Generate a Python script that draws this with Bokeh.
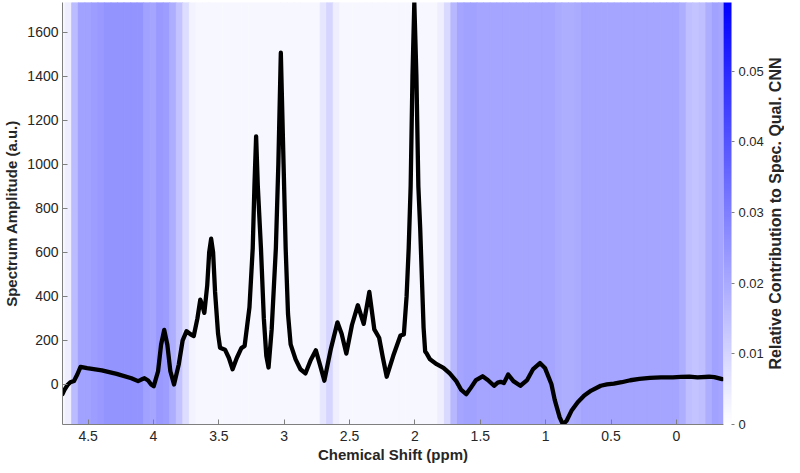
import numpy as np
from bokeh.plotting import figure
from bokeh.layouts import row
from bokeh.models import (Range1d, LinearColorMapper, ColorBar, FixedTicker, Label,
                          ColumnDataSource)
from bokeh.transform import linear_cmap
from bokeh.embed import file_html
from bokeh.resources import INLINE

# ---------------- data ----------------
ppm = [4.696, 4.681, 4.658, 4.636, 4.608, 4.583, 4.558, 4.508, 4.395, 4.282, 4.169, 4.118,
       4.093, 4.069, 4.041, 4.018, 3.998, 3.965, 3.942, 3.918, 3.894, 3.871, 3.843, 3.807,
       3.777, 3.747, 3.717, 3.692, 3.664, 3.642, 3.627, 3.611, 3.589, 3.574, 3.559, 3.544,
       3.529, 3.506, 3.491, 3.453, 3.423, 3.395, 3.363, 3.328, 3.303, 3.266, 3.241, 3.228,
       3.215, 3.202, 3.178, 3.156, 3.137, 3.120, 3.096, 3.064, 3.045, 3.026, 3.005, 2.989,
       2.971, 2.951, 2.913, 2.876, 2.838, 2.798, 2.758, 2.727, 2.693, 2.644, 2.593, 2.561,
       2.525, 2.482, 2.437, 2.392, 2.349, 2.311, 2.274, 2.245, 2.216, 2.166, 2.111, 2.085,
       2.064, 2.048, 2.033, 2.019, 2.005, 1.989, 1.974, 1.960, 1.934, 1.922, 1.910, 1.885,
       1.834, 1.782, 1.734, 1.684, 1.646, 1.608, 1.578, 1.533, 1.483, 1.443, 1.395, 1.367,
       1.345, 1.320, 1.287, 1.247, 1.194, 1.142, 1.096, 1.044, 1.006, 0.956, 0.931, 0.893,
       0.868, 0.840, 0.803, 0.755, 0.705, 0.652, 0.579, 0.532, 0.479, 0.419, 0.353, 0.283,
       0.203, 0.118, 0.027, -0.033, -0.099, -0.161, -0.250, -0.290, -0.350]
amplitude = [-44, -25, -3, 10, 16, 45, 80, 74, 64, 48, 28, 15,
             22, 28, 18, 0, -8, 60, 180, 248, 180, 60, 0, 90,
             200, 242, 228, 220, 300, 385, 360, 325, 450, 600, 662, 600,
             420, 230, 167, 158, 120, 69, 120, 165, 175, 350, 618, 900,
             1127, 900, 618, 300, 130, 77, 250, 618, 1000, 1507, 1000, 618,
             320, 182, 114, 69, 50, 110, 155, 90, 17, 160, 282, 230,
             140, 270, 360, 275, 420, 250, 212, 120, 35, 130, 222, 227,
             400, 618, 900, 1400, 1735, 1400, 900, 709, 257, 150, 140, 114,
             92, 75, 50, 15, -25, -44, -20, 20, 37, 20, -6, 8,
             12, 6, 45, 15, -6, 20, 70, 97, 75, 1, -70, -150,
             -182, -165, -120, -81, -50, -28, -6, 0, 4, 10, 19, 25,
             30, 32, 32, 34, 35, 32, 35, 33, 24]

# relative contribution, bins of 0.05 ppm centred from 4.70 down to -0.35
contrib_ppm = [round(4.70 - 0.05 * i, 2) for i in range(102)]
contribution = [
    0.002, 0.004, 0.016, 0.022, 0.022, 0.023, 0.024, 0.025, 0.025, 0.025,   # 4.70 .. 4.25
    0.025, 0.025, 0.025, 0.022, 0.021, 0.024, 0.023, 0.019, 0.014, 0.008,   # 4.20 .. 3.75
    0.003, 0.002, 0.002, 0.002, 0.002, 0.002, 0.002, 0.002, 0.002, 0.002,   # 3.70 .. 3.25
    0.002, 0.002, 0.002, 0.002, 0.002, 0.002, 0.002, 0.002, 0.002, 0.002,   # 3.20 .. 2.75
    0.006, 0.010, 0.004, 0.002, 0.002, 0.002, 0.002, 0.002, 0.002, 0.002,   # 2.70 .. 2.25
    0.002, 0.002, 0.002, 0.002, 0.002, 0.002, 0.002, 0.002, 0.004, 0.009,   # 2.20 .. 1.75
    0.017, 0.021, 0.022, 0.022, 0.021, 0.021, 0.021, 0.021, 0.021, 0.021,   # 1.70 .. 1.25
    0.021, 0.021, 0.021, 0.021, 0.021, 0.021, 0.020, 0.019, 0.019, 0.020,   # 1.20 .. 0.75
    0.021, 0.021, 0.021, 0.021, 0.021, 0.021, 0.021, 0.021, 0.021, 0.021,   # 0.70 .. 0.25
    0.021, 0.021, 0.021, 0.021, 0.021, 0.019, 0.015, 0.014, 0.015, 0.019,   # 0.20 .. -0.25
    0.022, 0.021,                                                           # -0.30 .. -0.35
]

x_ticks = [4.5, 4, 3.5, 3, 2.5, 2, 1.5, 1, 0.5, 0]
x_tick_labels = ["4.5", "4", "3.5", "3", "2.5", "2", "1.5", "1", "0.5", "0"]
y_ticks = [0, 200, 400, 600, 800, 1000, 1200, 1400, 1600]
cbar_ticks = [0, 0.01, 0.02, 0.03, 0.04, 0.05]
cbar_max = 0.0597
x_lo, x_hi = -0.36, 4.696
y_lo, y_hi = -182, 1735

# ---------------- style ----------------
FONT = "Liberation Sans"
TXT = "#262626"
AX = "#7f7f7f"

palette = ["#%02x%02xff" % (255 - i, 255 - i) for i in range(256)]
mapper = LinearColorMapper(palette=palette, low=0, high=cbar_max)

p = figure(width=766, height=465, output_backend="svg", toolbar_location=None,
           x_range=Range1d(x_hi, x_lo), y_range=Range1d(y_lo, y_hi),
           min_border_top=2, min_border_left=2, min_border_right=0, min_border_bottom=2)
p.outline_line_color = None
p.grid.visible = False
p.background_fill_color = "white"

half = 0.025
src = ColumnDataSource(dict(
    left=[c + half for c in contrib_ppm],
    right=[c - half for c in contrib_ppm],
    contrib=contribution,
))
cmap = linear_cmap("contrib", palette, 0, cbar_max)
p.quad(left="left", right="right", bottom=y_lo, top=y_hi, source=src,
       fill_color=cmap, line_color=cmap, line_width=1)

p.line(ppm, amplitude, line_color="black", line_width=4.3, line_join="round", line_cap="round")

# axes
for ax in (p.xaxis[0], p.yaxis[0]):
    ax.axis_line_color = AX
    ax.major_tick_line_color = AX
    ax.minor_tick_line_color = None
    ax.major_tick_in = 5
    ax.major_tick_out = 0
    ax.major_label_text_font = FONT
    ax.major_label_text_font_size = "14px"
    ax.major_label_text_color = TXT
    ax.axis_label_text_font = FONT
    ax.axis_label_text_font_size = "15px"
    ax.axis_label_text_font_style = "bold"
    ax.axis_label_text_color = TXT

p.xaxis.ticker = FixedTicker(ticks=x_ticks)
p.xaxis.major_label_overrides = {t: l for t, l in zip(x_ticks, x_tick_labels)}
p.xaxis.axis_label = "Chemical Shift (ppm)"
p.xaxis.major_label_standoff = 6
p.xaxis.axis_label_standoff = 2

p.yaxis.ticker = FixedTicker(ticks=y_ticks)
p.yaxis.axis_label = "Spectrum Amplitude (a.u.)"
p.yaxis.major_label_standoff = 4
p.yaxis.axis_label_standoff = 4

cb = ColorBar(color_mapper=mapper, ticker=FixedTicker(ticks=cbar_ticks), width=8,
              padding=0, margin=4, label_standoff=4, major_tick_in=0, major_tick_out=3,
              major_tick_line_color=AX, minor_tick_line_color=None,
              bar_line_color=None, border_line_color=None,
              major_label_text_font=FONT, major_label_text_font_size="13px",
              major_label_text_color=TXT, background_fill_color=None)
p.add_layout(cb, "right")

# narrow companion figure carrying the colour-bar label (reads bottom to top)
p2 = figure(width=18, height=465, output_backend="svg", toolbar_location=None,
            x_range=Range1d(0, 1), y_range=p.y_range,
            min_border_top=2, min_border_left=0, min_border_right=0, min_border_bottom=41)
p2.outline_line_color = None
p2.grid.visible = False
p2.xaxis.visible = False
p2.yaxis.visible = False
p2.add_layout(Label(x=0.5, y=(y_lo + y_hi) / 2, angle=np.pi / 2,
                    text="Relative Contribution to Spec. Qual. CNN",
                    text_align="center", text_baseline="middle",
                    text_font=FONT, text_font_size="16px", text_font_style="bold",
                    text_color=TXT))

open("out.html", "w").write(file_html(row(p, p2), INLINE))
